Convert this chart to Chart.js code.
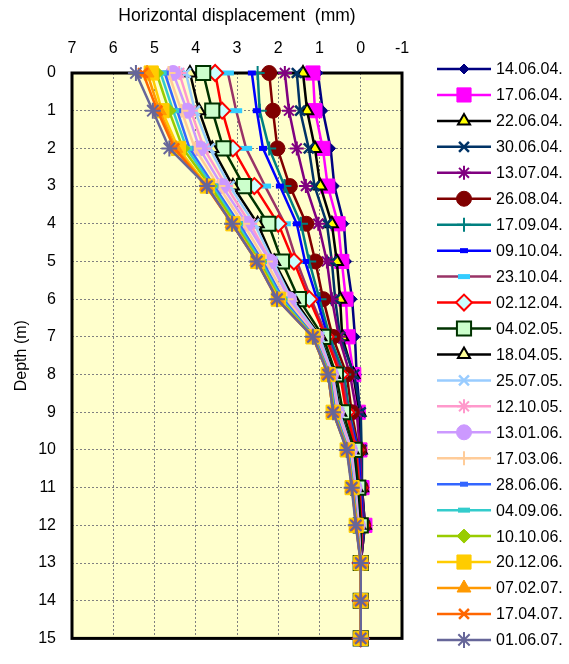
<!DOCTYPE html>
<html>
<head>
<meta charset="utf-8">
<script src="https://cdn.jsdelivr.net/npm/chart.js@4.4.1/dist/chart.umd.min.js"></script>
<style>
  html, body { margin: 0; padding: 0; background: #fff; }
  #wrap { width: 569px; height: 664px; position: relative; }
</style>
</head>
<body>
<div id="wrap"><canvas id="chart"></canvas></div>
<script>
// Depth of each reading (m)
const depths = [0, 1, 2, 3, 4, 5, 6, 7, 8, 9, 10, 11, 12, 13, 14, 15];

// Reading dates (legend labels)
const dates = [
  '14.06.04.', '17.06.04.', '22.06.04.', '30.06.04.', '13.07.04.', '26.08.04.',
  '17.09.04.', '09.10.04.', '23.10.04.', '02.12.04.', '04.02.05.', '18.04.05.',
  '25.07.05.', '12.10.05.', '13.01.06.', '17.03.06.', '28.06.06.', '04.09.06.',
  '10.10.06.', '20.12.06.', '07.02.07.', '17.04.07.', '01.06.07.',
];

// Horizontal displacement (mm) per reading, depth 0..15
const d140604 = [1.04, 0.92, 0.73, 0.64, 0.41, 0.34, 0.21, 0.14, 0.10, 0.02, 0.00, -0.03, -0.08, 0, 0, 0];
const d170604 = [1.16, 1.11, 0.92, 0.80, 0.55, 0.46, 0.36, 0.31, 0.17, 0.06, 0.02, -0.03, -0.10, 0, 0, 0];
const d220604 = [1.40, 1.30, 1.11, 0.98, 0.70, 0.58, 0.50, 0.45, 0.18, 0.03, 0.00, -0.03, -0.10, 0, 0, 0];
const d300604 = [1.55, 1.47, 1.26, 1.12, 0.82, 0.70, 0.62, 0.50, 0.16, 0.00, -0.02, -0.03, -0.10, 0, 0, 0];
const d130704 = [1.84, 1.74, 1.55, 1.33, 1.03, 0.82, 0.70, 0.53, 0.26, 0.10, 0.02, -0.02, -0.08, 0, 0, 0];
const d260804 = [2.22, 2.13, 2.02, 1.72, 1.32, 1.10, 0.91, 0.68, 0.34, 0.22, 0.05, 0.00, -0.06, 0, 0, 0];
const d170904 = [2.50, 2.45, 2.22, 1.85, 1.45, 1.25, 1.00, 0.75, 0.40, 0.28, 0.06, 0.00, -0.05, 0, 0, 0];
const d091004 = [2.64, 2.52, 2.37, 1.96, 1.55, 1.35, 1.06, 0.80, 0.46, 0.31, 0.06, 0.00, -0.05, 0, 0, 0];
const d231004 = [3.22, 3.02, 2.78, 2.32, 1.84, 1.55, 1.20, 0.82, 0.46, 0.31, 0.10, 0.02, -0.03, 0, 0, 0];
const d021204 = [3.53, 3.36, 3.10, 2.58, 2.00, 1.62, 1.25, 0.85, 0.50, 0.35, 0.12, 0.04, -0.02, 0, 0, 0];
const d040205 = [3.82, 3.60, 3.33, 2.83, 2.24, 1.91, 1.50, 0.91, 0.60, 0.43, 0.15, 0.06, 0.00, 0, 0, 0];
const d180405 = [4.14, 3.92, 3.60, 3.10, 2.50, 2.10, 1.62, 0.98, 0.65, 0.50, 0.20, 0.10, 0.03, 0, 0, 0];
const d250705 = [4.24, 4.02, 3.66, 3.18, 2.58, 2.13, 1.68, 1.00, 0.68, 0.52, 0.22, 0.12, 0.05, 0, 0, 0];
const d121005 = [4.40, 4.12, 3.80, 3.26, 2.68, 2.18, 1.72, 1.05, 0.70, 0.55, 0.24, 0.14, 0.06, 0, 0, 0];
const d130106 = [4.55, 4.21, 3.91, 3.36, 2.76, 2.20, 1.74, 1.08, 0.72, 0.58, 0.26, 0.15, 0.07, 0, 0, 0];
const d170306 = [4.66, 4.35, 4.02, 3.45, 2.85, 2.30, 1.80, 1.10, 0.74, 0.60, 0.28, 0.17, 0.08, 0, 0, 0];
const d280606 = [4.75, 4.45, 4.15, 3.55, 2.95, 2.38, 1.88, 1.12, 0.75, 0.62, 0.30, 0.18, 0.09, 0, 0, 0];
const d040906 = [4.85, 4.55, 4.22, 3.60, 3.00, 2.42, 1.92, 1.14, 0.76, 0.64, 0.31, 0.19, 0.10, 0, 0, 0];
const d101006 = [4.95, 4.65, 4.31, 3.65, 3.05, 2.46, 1.96, 1.15, 0.77, 0.65, 0.32, 0.20, 0.10, 0, 0, 0];
const d201206 = [5.08, 4.82, 4.42, 3.72, 3.10, 2.50, 2.00, 1.16, 0.79, 0.67, 0.33, 0.21, 0.11, 0, 0, 0];
const d070207 = [5.18, 4.88, 4.48, 3.74, 3.12, 2.52, 2.02, 1.16, 0.79, 0.67, 0.33, 0.21, 0.11, 0, 0, 0];
const d170407 = [5.28, 4.93, 4.52, 3.75, 3.12, 2.52, 2.03, 1.16, 0.79, 0.67, 0.33, 0.21, 0.11, 0, 0, 0];
const d010607 = [5.45, 5.04, 4.64, 3.73, 3.12, 2.52, 2.03, 1.16, 0.79, 0.67, 0.34, 0.22, 0.12, 0, 0, 0];

const seriesValues = [
  d140604, d170604, d220604, d300604, d130704, d260804, d170904, d091004,
  d231004, d021204, d040205, d180405, d250705, d121005, d130106, d170306,
  d280606, d040906, d101006, d201206, d070207, d170407, d010607,
];

// Line colour / marker per series (Excel-like styles)
const styles = [
  { line: '#000080', style: 'rectRot', r: 5, fill: '#000080', edge: '#000080', bw: 1 },
  { line: '#FF00FF', style: 'rect', r: 10, fill: '#FF00FF', edge: '#FF00FF', bw: 1 },
  { line: '#000000', style: 'triangle', r: 7, fill: '#FFFF00', edge: '#000000', bw: 2 },
  { line: '#003366', style: 'crossRot', r: 7, fill: '#003366', edge: '#003366', bw: 2.5 },
  { line: '#800080', style: 'star', r: 7, fill: '#800080', edge: '#800080', bw: 2 },
  { line: '#800000', style: 'circle', r: 7.5, fill: '#800000', edge: '#800000', bw: 1 },
  { line: '#008080', style: 'cross', r: 7, fill: '#008080', edge: '#008080', bw: 2 },
  { line: '#0000FF', style: 'line', r: 4, fill: '#0000FF', edge: '#0000FF', bw: 5 },
  { line: '#993366', style: 'line', r: 6, fill: '#33CCFF', edge: '#33CCFF', bw: 5 },
  { line: '#FF0000', style: 'rectRot', r: 8, fill: '#CCFFFF', edge: '#FF0000', bw: 2 },
  { line: '#003300', style: 'rect', r: 10, fill: '#CCFFCC', edge: '#003300', bw: 2 },
  { line: '#000000', style: 'triangle', r: 7, fill: '#FFFF99', edge: '#000000', bw: 2 },
  { line: '#99CCFF', style: 'crossRot', r: 7, fill: '#99CCFF', edge: '#99CCFF', bw: 2.5 },
  { line: '#FF99CC', style: 'star', r: 7, fill: '#FF99CC', edge: '#FF99CC', bw: 2 },
  { line: '#CC99FF', style: 'circle', r: 7.5, fill: '#CC99FF', edge: '#CC99FF', bw: 1 },
  { line: '#FFCC99', style: 'cross', r: 7, fill: '#FFCC99', edge: '#FFCC99', bw: 2 },
  { line: '#3366FF', style: 'line', r: 4, fill: '#3366FF', edge: '#3366FF', bw: 5 },
  { line: '#33CCCC', style: 'line', r: 6, fill: '#33CCCC', edge: '#33CCCC', bw: 5 },
  { line: '#99CC00', style: 'rectRot', r: 7, fill: '#99CC00', edge: '#99CC00', bw: 1 },
  { line: '#FFCC00', style: 'rect', r: 10, fill: '#FFCC00', edge: '#FFCC00', bw: 1 },
  { line: '#FF9900', style: 'triangle', r: 8, fill: '#FF9900', edge: '#FF9900', bw: 1 },
  { line: '#FF6600', style: 'crossRot', r: 7, fill: '#FF6600', edge: '#FF6600', bw: 2.5 },
  { line: '#666699', style: 'star', r: 8, fill: '#666699', edge: '#666699', bw: 2 },
];

const FONT = '"Liberation Sans", Arial, sans-serif';

const datasets = seriesValues.map((vals, i) => ({
  label: dates[i],
  data: vals.map((v, k) => ({ x: v, y: depths[k] })),
  showLine: true,
  borderColor: styles[i].line,
  borderWidth: 2.5,
  tension: 0,
  pointStyle: styles[i].style,
  pointRadius: styles[i].r,
  pointHoverRadius: styles[i].r,
  pointBackgroundColor: styles[i].fill,
  pointBorderColor: styles[i].edge,
  pointBorderWidth: styles[i].bw,
  clip: false,
  order: -i, // later readings drawn on top, like the original
}));

// plot background + frame
const plotFrame = {
  id: 'plotFrame',
  beforeDraw(chart) {
    const { ctx, chartArea: a } = chart;
    ctx.save();
    ctx.fillStyle = '#FFFFCC';
    ctx.fillRect(a.left, a.top, a.right - a.left, a.bottom - a.top);
    ctx.restore();
  },
  beforeDatasetsDraw(chart) {
    const { ctx, chartArea: a } = chart;
    ctx.save();
    ctx.strokeStyle = '#000';
    ctx.lineWidth = 3;
    ctx.strokeRect(a.left, a.top, a.right - a.left, a.bottom - a.top);
    ctx.restore();
  },
};

// legend with line + marker, drawn to the right of the plot
const sideLegend = {
  id: 'sideLegend',
  afterDraw(chart) {
    const { ctx } = chart;
    const x0 = 437; const x1 = 491; const top = 69; const step = 25.95;
    ctx.save();
    chart.data.datasets.forEach((ds, i) => {
      const y = top + i * step;
      const st = styles[i];
      ctx.strokeStyle = st.line;
      ctx.lineWidth = 2.5;
      ctx.beginPath();
      ctx.moveTo(x0, y);
      ctx.lineTo(x1, y);
      ctx.stroke();
      ctx.fillStyle = st.fill;
      ctx.strokeStyle = st.edge;
      ctx.lineWidth = st.bw;
      Chart.helpers.drawPoint(ctx, {
        pointStyle: st.style, radius: st.r, rotation: 0, borderWidth: st.bw,
      }, (x0 + x1) / 2, y);
      ctx.fillStyle = '#000';
      ctx.font = '16px ' + FONT;
      ctx.textBaseline = 'middle';
      ctx.textAlign = 'left';
      ctx.fillText(ds.label, 496, y + 1);
    });
    ctx.restore();
  },
};

new Chart(document.getElementById('chart'), {
  type: 'scatter',
  data: { datasets },
  plugins: [plotFrame, sideLegend],
  options: {
    responsive: true,
    maintainAspectRatio: false,
    animation: false,
    layout: {
      padding: { left: 0, right: 167, top: 0, bottom: 15 },
    },
    scales: {
      x: {
        type: 'linear',
        position: 'top',
        reverse: true,
        min: -1,
        max: 7,
        afterFit: (scale) => { scale.height = 73; },
        ticks: {
          stepSize: 1,
          padding: 15,
          color: '#000',
          font: { family: FONT, size: 16 },
        },
        grid: { color: '#808080', lineWidth: 1, drawTicks: false },
        border: { display: false, dash: [2, 2] },
        title: {
          display: true,
          text: 'Horizontal displacement  (mm)',
          color: '#000',
          font: { family: FONT, size: 17.5 },
          padding: { top: 6, bottom: 0 },
        },
      },
      y: {
        type: 'linear',
        reverse: true,
        min: 0,
        max: 15,
        afterFit: (scale) => { scale.width = 72; },
        ticks: {
          stepSize: 1,
          padding: 16,
          color: '#000',
          font: { family: FONT, size: 16 },
        },
        grid: { color: '#808080', lineWidth: 1, drawTicks: false },
        border: { display: false, dash: [2, 2] },
        title: {
          display: true,
          text: 'Depth (m)',
          color: '#000',
          font: { family: FONT, size: 16 },
          padding: { top: 12, bottom: 0 },
        },
      },
    },
    plugins: {
      legend: { display: false },
      tooltip: { enabled: false },
    },
  },
});
</script>
</body>
</html>
